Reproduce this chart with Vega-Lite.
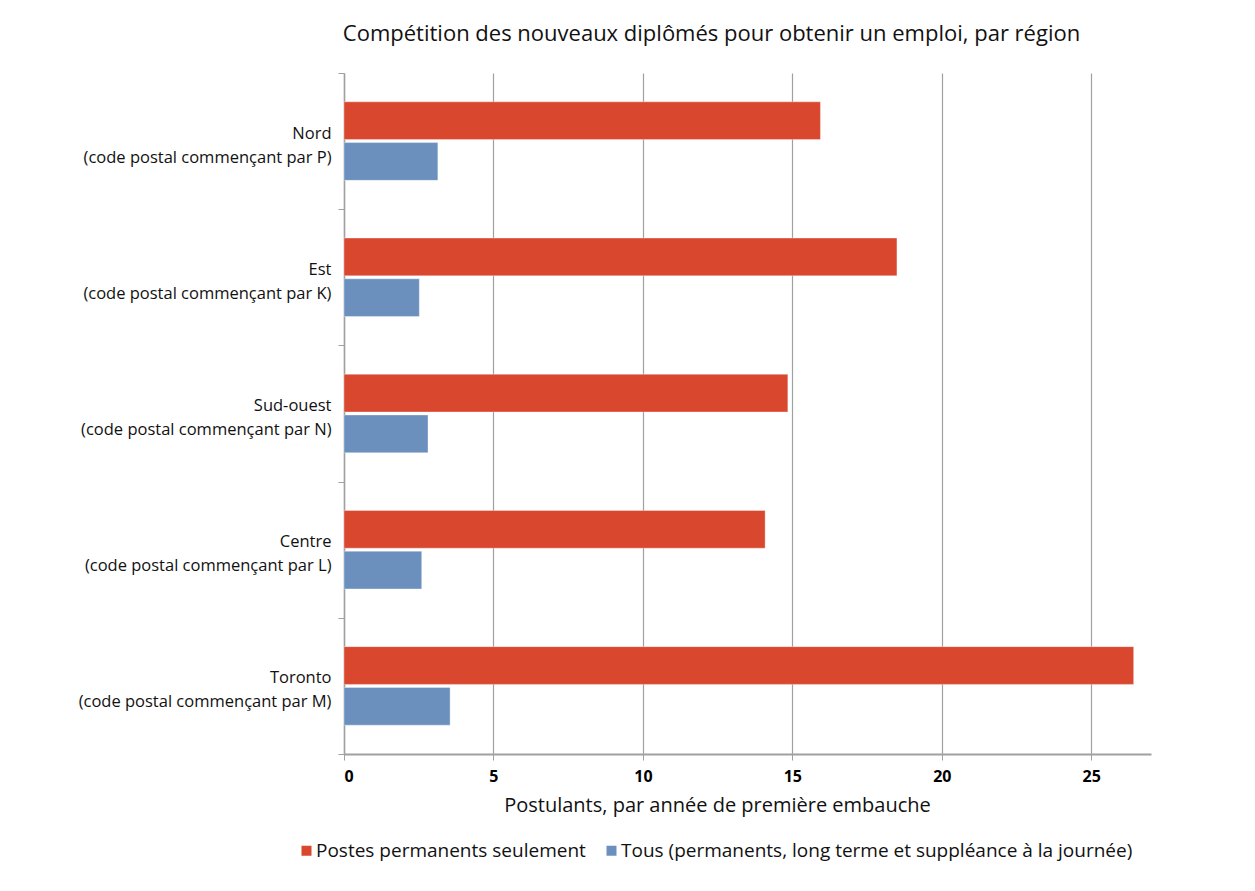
{
  "$schema": "https://vega.github.io/schema/vega-lite/v6.json",
  "width": 807,
  "height": 681,
  "autosize": {"type": "none"},
  "padding": {"left": 344, "top": 73, "right": 104, "bottom": 137},
  "background": "white",
  "title": {
    "text": "Compétition des nouveaux diplômés pour obtenir un emploi, par région",
    "font": "Open Sans",
    "fontSize": 22,
    "fontWeight": "normal",
    "color": "#111111",
    "anchor": "middle",
    "frame": "group",
    "dx": -36,
    "dy": 2,
    "baseline": "alphabetic",
    "offset": 4
  },
  "data": {
    "values": [
      {"region": "Nord|(code postal commençant par P)", "serie": "Postes permanents seulement", "valeur": 15.94},
      {"region": "Nord|(code postal commençant par P)", "serie": "Tous (permanents, long terme et suppléance à la journée)", "valeur": 3.14},
      {"region": "Est|(code postal commençant par K)", "serie": "Postes permanents seulement", "valeur": 18.5},
      {"region": "Est|(code postal commençant par K)", "serie": "Tous (permanents, long terme et suppléance à la journée)", "valeur": 2.52},
      {"region": "Sud-ouest|(code postal commençant par N)", "serie": "Postes permanents seulement", "valeur": 14.85},
      {"region": "Sud-ouest|(code postal commençant par N)", "serie": "Tous (permanents, long terme et suppléance à la journée)", "valeur": 2.81},
      {"region": "Centre|(code postal commençant par L)", "serie": "Postes permanents seulement", "valeur": 14.09},
      {"region": "Centre|(code postal commençant par L)", "serie": "Tous (permanents, long terme et suppléance à la journée)", "valeur": 2.6},
      {"region": "Toronto|(code postal commençant par M)", "serie": "Postes permanents seulement", "valeur": 26.42},
      {"region": "Toronto|(code postal commençant par M)", "serie": "Tous (permanents, long terme et suppléance à la journée)", "valeur": 3.55}
    ]
  },
  "mark": {"type": "bar", "strokeWidth": 1, "strokeOpacity": 0.35, "stroke": "white"},
  "encoding": {
    "y": {
      "field": "region",
      "type": "nominal",
      "sort": null,
      "scale": {"paddingInner": 0, "paddingOuter": 0},
      "axis": {
        "title": null,
        "labelExpr": "split(datum.label, '|')",
        "labelFont": "Open Sans",
        "labelFontSize": 16.5,
        "labelLineHeight": 24,
        "labelColor": "#111111",
        "labelPadding": 7,
        "labelOffset": -8,
        "labelLimit": 400,
        "tickBand": "extent",
        "tickSize": 6,
        "tickColor": "#A0A0A0",
        "domainColor": "#A0A0A0",
        "domainWidth": 1.5,
        "grid": false
      }
    },
    "yOffset": {
      "field": "serie",
      "type": "nominal",
      "sort": ["Postes permanents seulement", "Tous (permanents, long terme et suppléance à la journée)"],
      "scale": {"paddingInner": 0.0735, "paddingOuter": 0.707}
    },
    "x": {
      "field": "valeur",
      "type": "quantitative",
      "scale": {"domain": [0, 27], "nice": false},
      "axis": {
        "title": "Postulants, par année de première embauche",
        "titleFont": "Open Sans",
        "titleFontSize": 20,
        "titleFontWeight": "normal",
        "titleColor": "#111111",
        "titlePadding": 11,
        "titleX": 373,
        "values": [0, 5, 10, 15, 20, 25],
        "labelFont": "Open Sans",
        "labelFontSize": 16,
        "labelFontWeight": "bold",
        "labelColor": "#000000",
        "labelPadding": 8,
        "tickSize": 6,
        "tickColor": "#A0A0A0",
        "domainColor": "#A0A0A0",
        "domainWidth": 2,
        "grid": true,
        "gridColor": "#A0A0A0",
        "gridWidth": 1.2
      }
    },
    "color": {
      "field": "serie",
      "type": "nominal",
      "scale": {
        "domain": ["Postes permanents seulement", "Tous (permanents, long terme et suppléance à la journée)"],
        "range": ["#D9472F", "#6B90BE"]
      },
      "legend": {
        "title": null,
        "orient": "none",
        "legendX": -47,
        "legendY": 768,
        "padding": 0,
        "direction": "horizontal",
        "symbolType": "square",
        "symbolSize": 100,
        "symbolStrokeWidth": 0,
        "labelFont": "Open Sans",
        "labelFontSize": 19,
        "labelColor": "#111111",
        "labelOffset": 0,
        "columnPadding": 16,
        "labelLimit": 700
      }
    }
  },
  "config": {
    "view": {"stroke": null}
  }
}
